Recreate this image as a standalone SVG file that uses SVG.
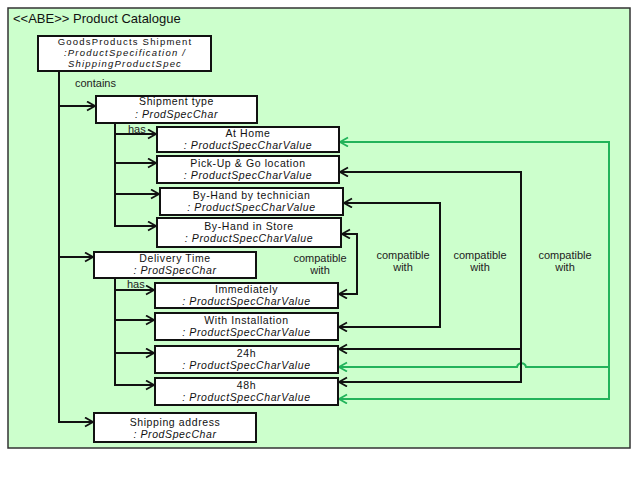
<svg xmlns="http://www.w3.org/2000/svg" width="641" height="504" viewBox="0 0 641 504">
<style>
.frame{fill:#ccffcc;stroke:#333;stroke-width:1.5}
.box{fill:#fff;stroke:#111;stroke-width:2}
.t{font-family:"Liberation Sans",Arial,sans-serif;font-size:10.5px;letter-spacing:0.6px;fill:#111;text-anchor:middle}
.s{font-size:9.5px;letter-spacing:1.2px}
.i{font-style:italic}
.lbl{font-family:"Liberation Sans",Arial,sans-serif;font-size:11px;fill:#222}
.c{text-anchor:middle}
.ln{fill:none;stroke:#111;stroke-width:2}
.gr{fill:none;stroke:#22b35a;stroke-width:2}
</style>
<defs>
<marker id="ab" markerUnits="userSpaceOnUse" markerWidth="12" markerHeight="12" refX="9" refY="5" orient="auto-start-reverse">
<path d="M1,0.5 L9,5 L1,9.5" fill="none" stroke="#111" stroke-width="1.8"/>
</marker>
<marker id="ag" markerUnits="userSpaceOnUse" markerWidth="12" markerHeight="12" refX="9" refY="5" orient="auto-start-reverse">
<path d="M1,0.5 L9,5 L1,9.5" fill="none" stroke="#22b35a" stroke-width="1.8"/>
</marker>
</defs>
<g id="catalogue">
<rect class="frame" x="8" y="8" width="622" height="440"/>
<text x="13" y="23" font-family="'Liberation Sans',Arial,sans-serif" font-size="13" fill="#111">&lt;&lt;ABE&gt;&gt; Product Catalogue</text>
</g>
<g id="connectors">
<path class="ln" d="M59,71 V422 H93" marker-end="url(#ab)"/>
<path class="ln" d="M59,106 H95" marker-end="url(#ab)"/>
<path class="ln" d="M59,257 H93" marker-end="url(#ab)"/>
<text class="lbl" x="75" y="87">contains</text>
<path class="ln" d="M115,123 V226 H156" marker-end="url(#ab)"/>
<path class="ln" d="M115,134 H156" marker-end="url(#ab)"/>
<path class="ln" d="M115,163 H156" marker-end="url(#ab)"/>
<path class="ln" d="M115,194 H159" marker-end="url(#ab)"/>
<text class="lbl" x="128" y="133">has</text>
<path class="ln" d="M115,278 V385 H154" marker-end="url(#ab)"/>
<path class="ln" d="M115,290 H154" marker-end="url(#ab)"/>
<path class="ln" d="M115,320 H154" marker-end="url(#ab)"/>
<path class="ln" d="M115,353 H154" marker-end="url(#ab)"/>
<text class="lbl" x="127" y="288">has</text>
<path class="gr" d="M340,142 H609 V399 H339" marker-start="url(#ag)" marker-end="url(#ag)"/>
<path class="gr" d="M609,367 H526 C525,362 518,362 517,367 H339" marker-end="url(#ag)"/>
<path class="ln" d="M340,172 H521 V382 H339" marker-start="url(#ab)" marker-end="url(#ab)"/>
<path class="ln" d="M521,349 H339" marker-end="url(#ab)"/>
<path class="ln" d="M344,203 H440 V327 H339" marker-start="url(#ab)" marker-end="url(#ab)"/>
<path class="ln" d="M342,234 H357 V294 H339" marker-start="url(#ab)" marker-end="url(#ab)"/>
<text class="lbl c" x="320" y="262">compatible</text>
<text class="lbl c" x="320" y="274">with</text>
<text class="lbl c" x="403" y="259">compatible</text>
<text class="lbl c" x="403" y="271">with</text>
<text class="lbl c" x="480" y="259">compatible</text>
<text class="lbl c" x="480" y="271">with</text>
<text class="lbl c" x="565" y="259">compatible</text>
<text class="lbl c" x="565" y="271">with</text>
</g>
<g id="goods">
<rect class="box" x="38" y="36" width="173" height="35"/>
<text class="t s" x="125" y="45.3">GoodsProducts Shipment</text>
<text class="t s i" x="125" y="56">:ProductSpecification /</text>
<text class="t s i" x="125" y="66.7">ShippingProductSpec</text>
</g>
<g id="shipment-type">
<rect class="box" x="96" y="96" width="161" height="27"/>
<text class="t" x="176.5" y="104.5">Shipment type</text>
<text class="t i" x="176.5" y="117.5">: ProdSpecChar</text>
</g>
<g id="at-home">
<rect class="box" x="157" y="127" width="182" height="25"/>
<text class="t" x="248" y="137">At Home</text>
<text class="t i" x="248" y="149">: ProductSpecCharValue</text>
</g>
<g id="pick-up">
<rect class="box" x="157" y="156" width="182" height="27"/>
<text class="t" x="248" y="166.5">Pick-Up &amp; Go location</text>
<text class="t i" x="248" y="178.5">: ProductSpecCharValue</text>
</g>
<g id="by-hand-tech">
<rect class="box" x="160" y="188" width="183" height="27"/>
<text class="t" x="251.5" y="198.5">By-Hand by technician</text>
<text class="t i" x="251.5" y="210.5">: ProductSpecCharValue</text>
</g>
<g id="by-hand-store">
<rect class="box" x="157" y="218" width="184" height="29"/>
<text class="t" x="249" y="230">By-Hand in Store</text>
<text class="t i" x="249" y="242">: ProductSpecCharValue</text>
</g>
<g id="delivery-time">
<rect class="box" x="94" y="252" width="162" height="26"/>
<text class="t" x="175" y="262">Delivery Time</text>
<text class="t i" x="175" y="274">: ProdSpecChar</text>
</g>
<g id="immediately">
<rect class="box" x="155" y="283" width="183" height="25"/>
<text class="t" x="246.5" y="293">Immediately</text>
<text class="t i" x="246.5" y="305">: ProductSpecCharValue</text>
</g>
<g id="with-installation">
<rect class="box" x="155" y="313" width="183" height="27"/>
<text class="t" x="246.5" y="324">With Installation</text>
<text class="t i" x="246.5" y="336">: ProductSpecCharValue</text>
</g>
<g id="h24">
<rect class="box" x="155" y="346" width="183" height="27"/>
<text class="t" x="246.5" y="356.5">24h</text>
<text class="t i" x="246.5" y="368.5">: ProductSpecCharValue</text>
</g>
<g id="h48">
<rect class="box" x="155" y="378" width="183" height="27"/>
<text class="t" x="246.5" y="388.5">48h</text>
<text class="t i" x="246.5" y="400.5">: ProductSpecCharValue</text>
</g>
<g id="shipping-address">
<rect class="box" x="94" y="413" width="162" height="29"/>
<text class="t" x="175" y="425.5">Shipping address</text>
<text class="t i" x="175" y="437.5">: ProdSpecChar</text>
</g>
</svg>
